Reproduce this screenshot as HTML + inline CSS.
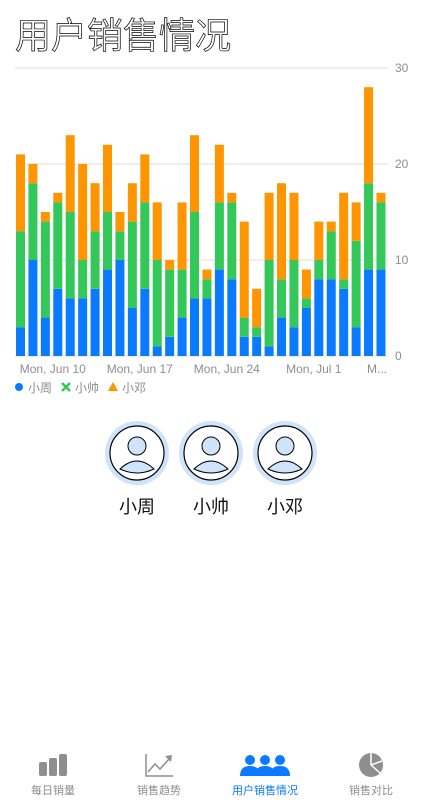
<!DOCTYPE html>
<html><head><meta charset="utf-8"><style>
body{margin:0;width:424px;height:800px;background:#fff;position:relative;overflow:hidden;font-family:"Liberation Sans","Noto Sans CJK SC",sans-serif}
.title{position:absolute;left:15px;top:14px;font-size:36px;color:#fff;-webkit-text-stroke:0.7px #000;letter-spacing:0px;line-height:44px}
.tab{position:absolute;top:750px;width:106px;text-align:center;font-size:11px;color:#8e8e8e}
.tab .lbl{position:absolute;top:32px;width:106px;left:0}
</style></head><body>
<div class="title">用户销售情况</div>
<svg id="chart" width="424" height="400" style="position:absolute;left:0;top:0"></svg>
<svg width="424" height="130" style="position:absolute;left:0;top:410px">
<g transform="translate(137,43)">
<circle r="32" fill="#cfe3fb"/><circle r="27" fill="#fff" stroke="#000" stroke-width="1.2"/>
<circle cy="-7" r="9" fill="#cfe3fb" stroke="#000"/><path d="M-17,16 Q0,0 17,16 Q0,24 -17,16Z" fill="#cfe3fb" stroke="#000"/>
<text y="60" text-anchor="middle" font-size="18" fill="#111" font-family="Liberation Sans,Noto Sans CJK SC,sans-serif">小周</text></g>
<g transform="translate(211,43)">
<circle r="32" fill="#cfe3fb"/><circle r="27" fill="#fff" stroke="#000" stroke-width="1.2"/>
<circle cy="-7" r="9" fill="#cfe3fb" stroke="#000"/><path d="M-17,16 Q0,0 17,16 Q0,24 -17,16Z" fill="#cfe3fb" stroke="#000"/>
<text y="60" text-anchor="middle" font-size="18" fill="#111" font-family="Liberation Sans,Noto Sans CJK SC,sans-serif">小帅</text></g>
<g transform="translate(285,43)">
<circle r="32" fill="#cfe3fb"/><circle r="27" fill="#fff" stroke="#000" stroke-width="1.2"/>
<circle cy="-7" r="9" fill="#cfe3fb" stroke="#000"/><path d="M-17,16 Q0,0 17,16 Q0,24 -17,16Z" fill="#cfe3fb" stroke="#000"/>
<text y="60" text-anchor="middle" font-size="18" fill="#111" font-family="Liberation Sans,Noto Sans CJK SC,sans-serif">小邓</text></g>
</svg>
<div class="tab" style="left:0">
<svg width="40" height="26" style="margin-top:2px"><rect x="6" y="10" width="8" height="14" rx="2" fill="#8e8e8e"/><rect x="16" y="6" width="8" height="18" rx="2" fill="#8e8e8e"/><rect x="26" y="2" width="8" height="22" rx="2" fill="#8e8e8e"/></svg>
<div class="lbl">每日销量</div></div>
<div class="tab" style="left:106px">
<svg width="40" height="26" style="margin-top:2px"><path d="M7,2 V24 H34" stroke="#8e8e8e" stroke-width="1.5" fill="none"/><path d="M9,20 L16,12 L21,17 L31,6" stroke="#8e8e8e" stroke-width="1.5" fill="none"/><path d="M26,4 L33,3 L32,10Z" fill="#8e8e8e"/></svg>
<div class="lbl">销售趋势</div></div>
<div class="tab" style="left:212px;color:#0a7aff">
<svg width="56" height="26" style="margin-top:2px"><g fill="#0a7aff"><circle cx="13" cy="8" r="5"/><path d="M3,24 Q3,14 13,14 Q23,14 23,24Z"/><circle cx="28" cy="8" r="5"/><path d="M18,24 Q18,14 28,14 Q38,14 38,24Z"/><circle cx="43" cy="8" r="5"/><path d="M33,24 Q33,14 43,14 Q53,14 53,24Z"/></g></svg>
<div class="lbl">用户销售情况</div></div>
<div class="tab" style="left:318px">
<svg width="40" height="26" style="margin-top:2px"><circle cx="20" cy="13" r="12" fill="#8e8e8e"/><path d="M20,13 L20,1 M20,13 L31,9 M20,13 L29,21" stroke="#fff" stroke-width="1.5"/></svg>
<div class="lbl">销售对比</div></div>
<script>
const categories=[7,8,9,10,11,12,13,14,15,16,17,18,19,20,21,22,23,24,25,26,27,28,29,30,1,2,3,4,5,6];
const xiaozhou=[3,10,4,7,6,6,7,9,10,5,7,1,2,4,6,6,9,8,2,2,1,4,3,5,8,8,7,3,9,9];
const xiaoshuai=[10,8,10,9,9,4,6,6,3,9,9,9,7,5,9,2,7,8,2,1,9,4,7,1,2,5,1,9,9,7];
const xiaodeng=[8,2,1,1,8,10,5,7,2,4,5,6,1,7,8,1,6,1,10,4,7,10,7,3,4,1,9,4,10,1];
const yTicks=[0,10,20,30];
const xLabels=["Mon, Jun 10","Mon, Jun 17","Mon, Jun 24","Mon, Jul 1","M..."];
const xLabelIdx=[3,10,17,24,31];
const NS="http://www.w3.org/2000/svg";
const svg=document.getElementById('chart');
const y0=356,yTop=68,ymax=30,left=15,plotRight=386,step=12.43,bw=9;
const ys=v=>y0-(v/ymax)*(y0-yTop);
const xs=i=>left+1+i*step;
function mk(t,a){const e=document.createElementNS(NS,t);for(const k in a)e.setAttribute(k,a[k]);svg.appendChild(e);return e;}
yTicks.forEach(t=>{
 const l=mk('line',{x1:left,x2:plotRight+2,y1:ys(t),y2:ys(t),stroke:'#ddd','stroke-width':1});
 
 
 const tx=mk('text',{x:395,y:ys(t)+4,'font-size':12,fill:'#8e8e8e'});tx.textContent=t;
 
 
});
const series=[[xiaozhou,'#0a7aff','zhou'],[xiaoshuai,'#34c759','shuai'],[xiaodeng,'#ff9500','deng']];
categories.forEach((c,i)=>{
 let base=0;
 series.forEach(([arr,col,nm])=>{
  const v=arr[i];
  const r=mk('rect',{x:xs(i),y:ys(base+v),width:bw,height:ys(base)-ys(base+v),fill:col});
  
  
  base+=v;
 });
});
xLabels.forEach((s,k)=>{
 const last=k==xLabels.length-1;
 const t=mk('text',{x:last?387:xs(xLabelIdx[k])+bw/2-5,y:373,'font-size':12,fill:'#8e8e8e','text-anchor':last?'end':'middle'});
 t.textContent=s;
 
 
});
const lg=[['小周','#0a7aff','c'],['小帅','#34c759','x'],['小邓','#ff9500','t']];
let lx=15;
lg.forEach(([s,col,sh])=>{
 let m;
 if(sh=='c')m=mk('circle',{cx:lx+4,cy:387,r:4,fill:col});
 else if(sh=='x')m=mk('path',{d:`M${lx},${383}l8,8M${lx+8},${383}l-8,8`,stroke:col,'stroke-width':2.5});
 else m=mk('path',{d:`M${lx+4},${382}l5,9h-10z`,fill:col});
 
 
 const t=mk('text',{x:lx+13,y:392,'font-size':12,fill:'#8e8e8e','font-family':'Liberation Sans,Noto Sans CJK SC,sans-serif'});t.textContent=s;
 
 
 lx+=47;
});
</script>
</body></html>
